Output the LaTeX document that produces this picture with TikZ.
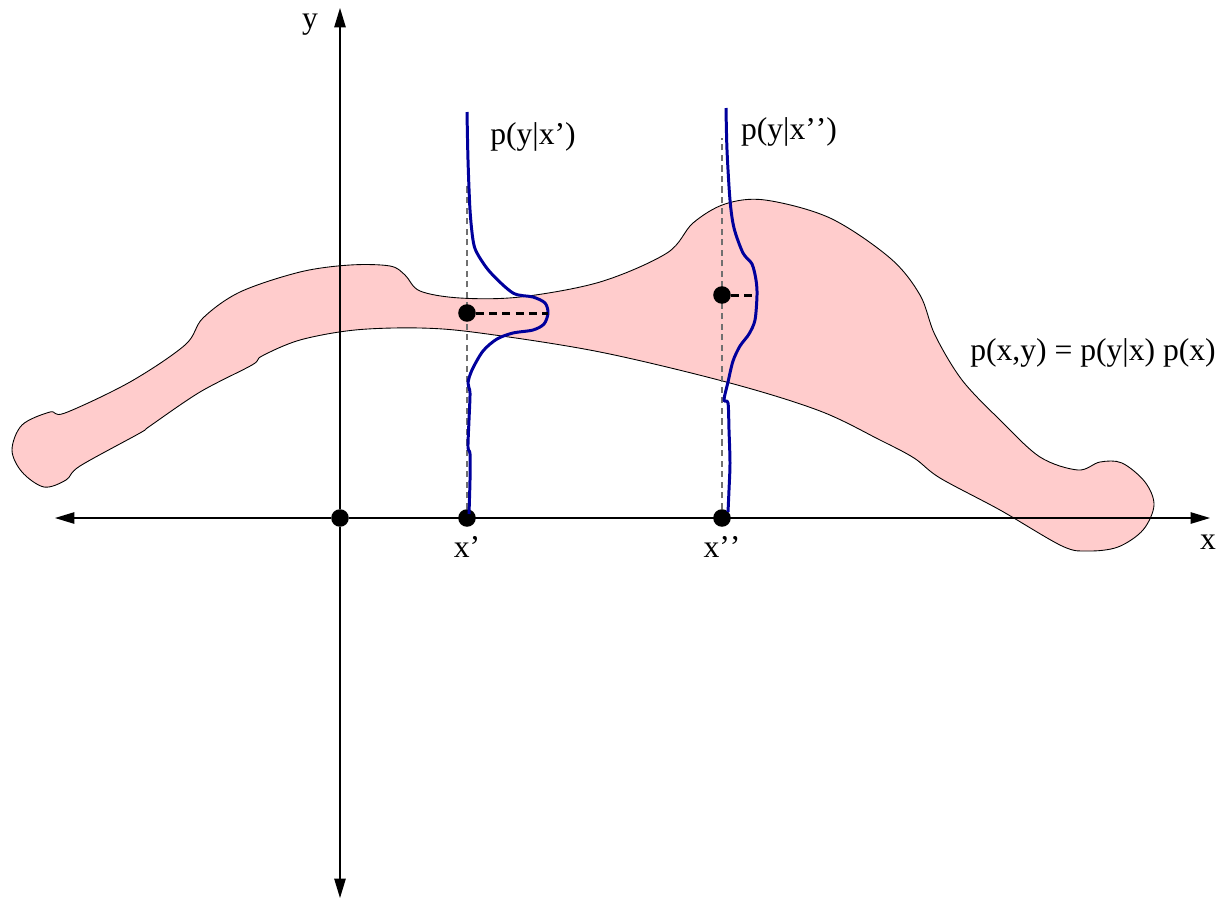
\documentclass[tikz,border=0pt]{standalone}
\usepackage{fontspec}
\setmainfont{Liberation Serif}
\usepackage{tikz}
\usetikzlibrary{arrows.meta,positioning}
\definecolor{blobpink}{HTML}{FFCCCC}
\definecolor{condblue}{HTML}{00009C}
\definecolor{guidegray}{HTML}{707070}
\newcommand{\twoprime}{'\kern0pt'}

\begin{document}
\begin{tikzpicture}[x=0.02cm,y=-0.02cm,
  blob/.style={draw=black,line width=0.5pt,fill=blobpink},
  axis/.style={-{Triangle[length=11pt,width=6.5pt]},line width=0.7pt},
  dot/.style={circle,fill=black,inner sep=0pt,minimum size=10pt},
  guide/.style={draw=guidegray,line width=0.6pt,dash pattern=on 3.5pt off 2.5pt},
  cond/.style={draw=condblue,line width=1.7pt,line join=round},
  mean/.style={line width=1.7pt,dash pattern=on 4.5pt off 3pt},
  lbl/.style={font=\fontsize{18}{20}\selectfont,inner sep=1pt},
  node distance=4pt
]
\useasboundingbox (0,0) rectangle (1220,900);
% joint density p(x,y)
\draw[blob] plot[smooth cycle,tension=0.55] coordinates {
  (50,412) (65,413) (130,382) (185,345) (203,318) (240,292) (300,272)
  (350,265) (390,266) (405,275) (420,291) (460,298) (520,297) (600,282)
  (667,253) (693,223) (725,204) (765,200) (830,218) (890,258) (920,295)
  (935,335) (962,380) (1000,420) (1040,457) (1078,470) (1100,462) (1122,463)
  (1145,482) (1154,505) (1143,530) (1118,547) (1088,551) (1062,546)
  (1000,510) (940,478) (914,458) (880,440) (820,411) (730,383) (600,352)
  (480,333) (420,328) (355,330) (300,340) (262,356) (252,365) (200,392)
  (150,426) (140,433) (80,466) (66,480) (44,487) (22,472) (12,450) (22,425)};
% axes
\node[dot] (o) at (340,518) {};
\coordinate (xl) at (55,518);
\coordinate (xr) at (1210,518);
\coordinate (yt) at (340,8);
\coordinate (yb) at (340,898);
\draw[axis] (o) -- (xr);
\draw[axis] (o) -- (xl);
\draw[axis] (o) -- (yt);
\draw[axis] (o) -- (yb);
\node[lbl] (ylab) at (310,25) {y};
\node[lbl] (xlab) at (1208,542) {x};
% points x' and x''
\node[dot] (xa) at (467,518) {};
\node[dot] (xb) at (722,518) {};
\node[lbl,below=4pt of xa] (xalab) {x'};
\node[lbl,below=4pt of xb] (xblab) {x\twoprime};
\coordinate (xatop) at (467,185);
\coordinate (xbtop) at (722,138);
\draw[guide] (xa) -- (xatop);
\draw[guide] (xb) -- (xbtop);
% conditionals p(y|x)
\draw[cond] plot[smooth,tension=0.5] coordinates {
  (467,112) (468,160) (470,210) (473,240) (477,253) (490,272) (513,293)
  (533,297) (545,303) (548,313) (544,324) (533,330) (513,333) (497,339)
  (483,351) (472,370) (468,383) (470,393) (469,420) (468,447) (470,454)
  (470,480) (469,514)};
\draw[cond] plot[smooth,tension=0.5] coordinates {
  (726,108) (727,150) (730,200) (734,228) (743,253) (752,264) (756,280)
  (757,295) (755,320) (749,334) (740,346) (733,361) (728,382) (724,400)
  (728,403) (729,430) (730,463) (729,490) (728,512)};
\node[dot] (ma) at (467,313) {};
\node[dot] (mb) at (722,295) {};
\coordinate (mae) at (548,313);
\coordinate (mbe) at (757,295);
\draw[mean] (ma) -- (mae);
\draw[mean] (mb) -- (mbe);
\node[lbl] (pa) at (533,137) {p(y|x')};
\node[lbl] (pb) at (789,132) {p(y|x\twoprime)};
\node[lbl] (pj) at (1093,353) {p(x,y) = p(y|x) p(x)};
\end{tikzpicture}
\end{document}
